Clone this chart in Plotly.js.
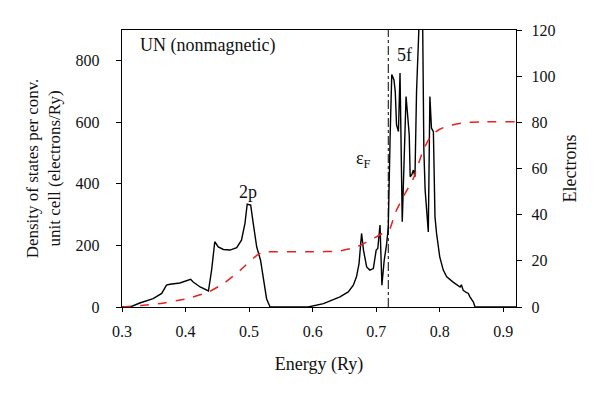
<!DOCTYPE html>
<html>
<head>
<meta charset="utf-8">
<script src="https://cdn.plot.ly/plotly-3.0.1.min.js"></script>
<style>html,body{margin:0;padding:0;background:#fff;}#chart{width:600px;height:398px;}</style>
</head>
<body>
<div id="chart"></div>
<script>
// Density of states (electrons/Ry) vs energy (Ry)
const dosEnergy = [0.300,0.313,0.328,0.349,0.3625,0.370,0.3755,0.391,0.408,0.412,0.423,0.436,0.441,0.446,0.4515,0.4595,0.470,0.4805,0.488,0.4935,0.497,0.5025,0.5065,0.512,0.518,0.5225,0.5275,0.533,
  0.560,0.593,0.617,0.643,0.656,0.664,0.669,0.673,0.677,0.680,0.685,0.690,0.6955,0.700,0.7025,0.706,0.709,0.7125,0.7165,0.719,0.722,0.7245,0.728,0.730,0.732,0.735,0.7375,0.7395,0.741,0.744,0.747,0.749,0.752,0.7535,0.756,0.7585,0.761,0.7635,0.765,0.768,0.773,0.775,0.777,0.7805,0.782,0.7845,0.787,0.790,0.7925,0.795,0.800,0.8055,0.811,0.821,0.832,0.834,0.836,0.837,0.841,0.845,0.8475,0.853,0.8555,0.880,0.920];
const dosValue = [0,0,13,27,44,71,74,78,90,81,65,52,120,212,195,187,185,193,217,272,334,331,272,195,152,87,27,0,
  0,0,11,33,49,71,98,141,239,185,130,120,125,185,190,266,71,150,206,260,560,755,738,700,592,570,760,500,277,480,684,635,559,423,430,445,423,700,776,950,950,510,380,293,244,684,581,570,293,239,163,120,98,81,65,72,60,54,48,44,33,16,0,0,0];
// Integrated number of electrons vs energy
const elecEnergy = [0.300,0.330,0.360,0.402,0.436,0.4595,0.486,0.512,0.520,0.530,0.600,0.640,0.669,0.6955,0.7215,0.7295,0.7425,0.7585,0.774,0.787,0.800,0.811,0.837,0.863,0.920];
const elecValue = [0,0.6,1.5,3.6,6.5,10.1,15.9,22.4,23.6,23.9,23.9,24.2,26.0,29.7,34.0,40.5,47.7,55.7,68.0,74.5,77.0,78.3,79.8,80.2,80.2];
const fermiEnergy = 0.719;
const xTicks = [0.3,0.4,0.5,0.6,0.7,0.8,0.9];
const yTicks = [0,200,400,600,800];
const y2Ticks = [0,20,40,60,80,100,120];

const FONT = 'Liberation Serif, DejaVu Serif, serif';
const tickFont = {family: FONT, size: 16, color: '#111'};

const traces = [
  {x: dosEnergy, y: dosValue, type: 'scatter', mode: 'lines', line: {color: '#000', width: 1.4}, yaxis: 'y', hoverinfo: 'skip'},
  {x: elecEnergy, y: elecValue, type: 'scatter', mode: 'lines', line: {color: '#e8201e', width: 1.5, dash: 'dash', shape: 'spline', smoothing: 0.4}, yaxis: 'y2', hoverinfo: 'skip'},
  {x: [fermiEnergy, fermiEnergy], y: [0, 900], type: 'scatter', mode: 'lines', line: {color: '#000', width: 1, dash: 'dashdot'}, yaxis: 'y', hoverinfo: 'skip'}
];

const layout = {
  width: 600, height: 398,
  margin: {l: 122, r: 84, t: 30, b: 91},
  showlegend: false,
  paper_bgcolor: '#fff', plot_bgcolor: '#fff',
  font: {family: FONT, size: 16, color: '#111'},
  xaxis: {
    range: [0.3, 0.92], tickvals: xTicks, ticktext: xTicks.map(v => v.toFixed(1)), tickfont: tickFont,
    ticks: 'outside', ticklen: 4, tickcolor: '#000', showgrid: false, zeroline: false,
    showline: true, linecolor: '#000', linewidth: 1.2, mirror: true,
    ticklabelstandoff: 6,
    title: {text: 'Energy (Ry)', font: {family: FONT, size: 18}, standoff: 18}
  },
  yaxis: {
    range: [0, 900], tickvals: yTicks, ticktext: yTicks.map(String), tickfont: tickFont,
    ticks: 'outside', ticklen: 5, tickcolor: '#000', showgrid: false, zeroline: false,
    showline: true, linecolor: '#000', linewidth: 1.2,
    ticklabelstandoff: 13,
    title: {text: 'Density of states per conv.<br>unit cell (electrons/Ry)', font: {family: FONT, size: 17}, standoff: 10}
  },
  yaxis2: {
    range: [0, 120], tickvals: y2Ticks, ticktext: y2Ticks.map(String), tickfont: tickFont,
    overlaying: 'y', side: 'right',
    ticks: 'outside', ticklen: 5, tickcolor: '#000', showgrid: false, zeroline: false,
    showline: true, linecolor: '#000', linewidth: 1.2,
    ticklabelstandoff: 6,
    title: {text: 'Electrons', font: {family: FONT, size: 18}, standoff: 9}
  },
  annotations: [
    {text: 'UN (nonmagnetic)', x: 0.325, y: 850, xref: 'x', yref: 'y', xanchor: 'left', yanchor: 'middle', showarrow: false, font: {family: FONT, size: 18}},
    {text: '2p', x: 0.499, y: 375, xref: 'x', yref: 'y', showarrow: false, font: {family: FONT, size: 18}},
    {text: 'ε<sub>F</sub>', x: 0.68, y: 480, xref: 'x', yref: 'y', showarrow: false, font: {family: FONT, size: 18}},
    {text: '5f', x: 0.745, y: 820, xref: 'x', yref: 'y', showarrow: false, font: {family: FONT, size: 18}}
  ]
};

Plotly.newPlot('chart', traces, layout, {staticPlot: true, displayModeBar: false});
</script>
</body>
</html>
